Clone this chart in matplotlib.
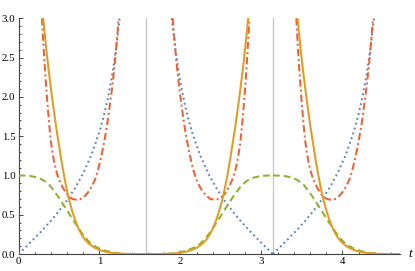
import numpy as np
import matplotlib
matplotlib.use("Agg")
import matplotlib.pyplot as plt
from matplotlib.ticker import MultipleLocator, FormatStrFormatter

# the picture repeats them mirrored about pi/2 and shifted by pi
t_blue = [0.0, 0.1, 0.2, 0.3, 0.4, 0.5, 0.6, 0.7, 0.8, 0.9, 1.0, 1.05, 1.1, 1.15, 1.2, 1.249]
v_blue = [0.0, 0.100, 0.203, 0.309, 0.423, 0.546, 0.684, 0.842, 1.030, 1.260, 1.557,
          1.743, 1.965, 2.234, 2.572, 3.0]

t_orange = [0.305, 0.32, 0.34, 0.36, 0.381, 0.40, 0.42, 0.44, 0.464, 0.49, 0.525, 0.55,
            0.575, 0.608, 0.63, 0.657, 0.69, 0.719, 0.75, 0.781, 0.82, 0.863, 0.93,
            1.0, 1.07, 1.13, 1.25, 1.40, np.pi / 2]
v_orange = [3.0, 2.84, 2.64, 2.45, 2.27, 2.11, 1.95, 1.80, 1.62, 1.45, 1.22, 1.07,
            0.93, 0.76, 0.67, 0.57, 0.46, 0.38, 0.305, 0.245, 0.185, 0.137, 0.085,
            0.052, 0.03, 0.017, 0.005, 0.0, 0.0]

t_green = [0.0, 0.1, 0.16, 0.216, 0.26, 0.30, 0.34, 0.381, 0.415, 0.451, 0.49, 0.525,
           0.575, 0.637, 0.698, 0.74, 0.781, 0.82, 0.863, 0.90, 0.93, 0.965, 1.0,
           1.05, 1.11, 1.17, 1.234, 1.30, 1.35, np.pi / 2]
v_green = [1.0, 0.997, 0.99, 0.978, 0.962, 0.943, 0.915, 0.88, 0.835, 0.785, 0.73, 0.675,
           0.595, 0.495, 0.395, 0.33, 0.27, 0.215, 0.165, 0.13, 0.107, 0.088, 0.07,
           0.05, 0.032, 0.018, 0.008, 0.002, 0.0, 0.0]

t_red = [0.29, 0.30, 0.319, 0.333, 0.348, 0.36, 0.373, 0.387, 0.402, 0.42, 0.443, 0.47,
         0.504, 0.54, 0.587, 0.63, 0.67, 0.72, 0.77, 0.822, 0.87, 0.91, 0.946, 0.98,
         1.008, 1.04, 1.069, 1.10, 1.131, 1.152, 1.172, 1.19, 1.205, 1.222, 1.236]
v_red = [3.0, 2.80, 2.47, 2.25, 2.04, 1.885, 1.725, 1.565, 1.42, 1.29, 1.155, 1.04,
         0.94, 0.86, 0.775, 0.725, 0.70, 0.69, 0.70, 0.74, 0.80, 0.87, 0.95, 1.06,
         1.18, 1.33, 1.49, 1.68, 1.92, 2.08, 2.26, 2.43, 2.60, 2.80, 3.0]

marks = [np.pi / 2, np.pi]


def pieces(t, v):
    t = np.asarray(t)
    v = np.asarray(v)
    return [(t, v), (np.pi - t[::-1], v[::-1]), (np.pi + t, v)]


fig = plt.figure(figsize=(4.15, 2.71), dpi=100)
ax = fig.add_axes([0.0446, 0.0627, 0.9193, 0.8698])

for m in marks:
    ax.axvline(m, color="#c4c4c4", lw=0.9, zorder=1)

styles = [
    (t_blue, v_blue, "#5e81b5", (0, (0.9, 1.6))),
    (t_red, v_red, "#eb6235", (0, (3.6, 1.5, 1.0, 1.5))),
    (t_green, v_green, "#8fb131", (0, (3.4, 2.0))),
    (t_orange, v_orange, "#e19c24", "-"),
]
for t, v, c, ls in styles:
    for tt, vv in pieces(t, v):
        ax.plot(tt, vv, color=c, ls=ls, lw=1.45, zorder=3)

ax.set_xlim(0, 3 * np.pi / 2)
ax.set_ylim(0, 3.0)

for s in ["top", "right"]:
    ax.spines[s].set_visible(False)
for s in ["left", "bottom"]:
    ax.spines[s].set_color("#444444")
    ax.spines[s].set_linewidth(0.8)

ax.xaxis.set_major_locator(MultipleLocator(1))
ax.xaxis.set_minor_locator(MultipleLocator(0.2))
ax.yaxis.set_major_locator(MultipleLocator(0.5))
ax.yaxis.set_minor_locator(MultipleLocator(0.1))
ax.yaxis.set_major_formatter(FormatStrFormatter("%.1f"))

ax.tick_params(which="both", direction="in", color="#444444", width=0.7)
ax.tick_params(which="major", length=3.0, labelsize=7.8, pad=2.2)
ax.tick_params(which="minor", length=1.6)
for lab in ax.get_xticklabels() + ax.get_yticklabels():
    lab.set_family("Liberation Serif")

ax.annotate("t", xy=(1, 0), xycoords="axes fraction", xytext=(6, 0),
            textcoords="offset points", ha="left", va="center",
            fontsize=9.5, family="Liberation Serif", style="italic")

fig.savefig("out.png", dpi=100)
